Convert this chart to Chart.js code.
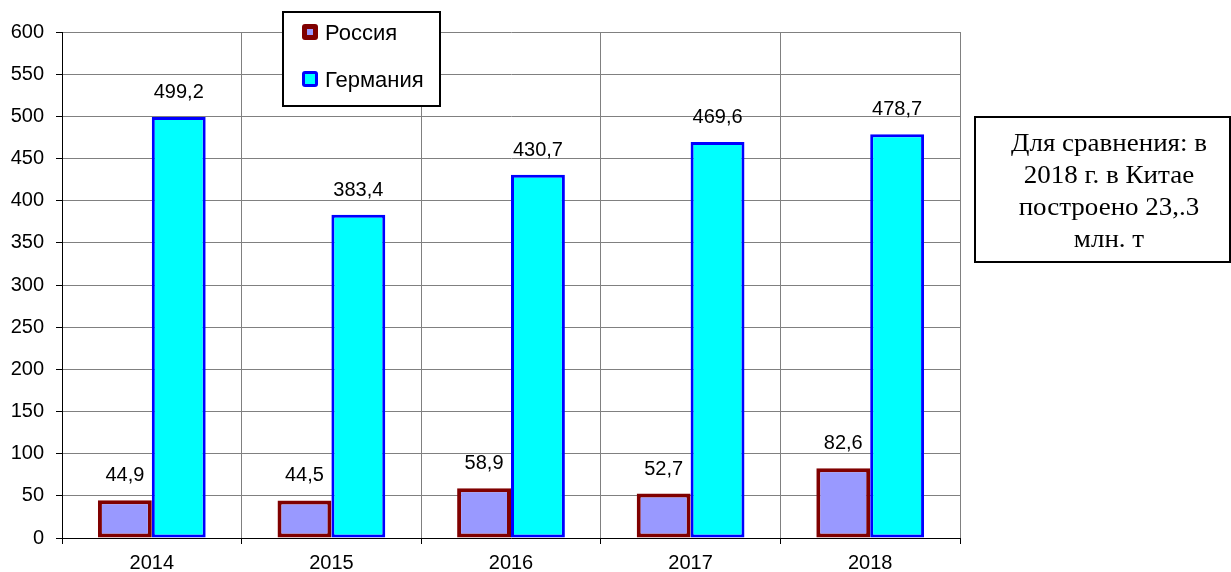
<!DOCTYPE html>
<html><head><meta charset="utf-8">
<script src="https://cdn.jsdelivr.net/npm/chart.js@4/dist/chart.umd.min.js"></script>
<style>html,body{margin:0;padding:0;background:#fff;}#wrap{position:relative;width:1231px;height:572px;}</style>
</head><body><div id="wrap"><canvas id="c" width="1231" height="572"></canvas></div>
<script>
const years = ['2014', '2015', '2016', '2017', '2018'];
const russia = [44.9, 44.5, 58.9, 52.7, 82.6];
const germany = [499.2, 383.4, 430.7, 469.6, 478.7];
const seriesNames = ['Россия', 'Германия'];
const yMin = 0, yMax = 600, yStep = 50;
const noteLines = ['Для сравнения: в', '2018 г. в Китае', 'построено 23,.3', 'млн. т'];

const SANS = '"Liberation Sans", Arial, sans-serif';
const SERIF = '"Liberation Serif", "Times New Roman", serif';

const labelsPlugin = {
  id: 'valueLabels',
  afterDatasetsDraw(chart) {
    const ctx = chart.ctx;
    ctx.save();
    ctx.font = '20px ' + SANS;
    ctx.fillStyle = '#000';
    ctx.textAlign = 'center';
    ctx.textBaseline = 'alphabetic';
    chart.data.datasets.forEach((ds, di) => {
      const meta = chart.getDatasetMeta(di);
      meta.data.forEach((el, i) => {
        const t = String(ds.data[i]).replace('.', ',');
        ctx.fillText(t, el.x, el.y - 19);
      });
    });
    ctx.restore();
  }
};

const legendPlugin = {
  id: 'boxLegend',
  afterDraw(chart) {
    const ctx = chart.ctx;
    ctx.save();
    ctx.fillStyle = '#fff';
    ctx.fillRect(283, 12, 157, 94);
    ctx.strokeStyle = '#000';
    ctx.lineWidth = 2;
    ctx.strokeRect(283, 12, 157, 94);
    const rows = [32, 79];
    ctx.font = '22px ' + SANS;
    ctx.textBaseline = 'middle';
    ctx.textAlign = 'left';
    chart.data.datasets.forEach((ds, i) => {
      const y = rows[i];
      ctx.fillStyle = ds.borderColor;
      ctx.beginPath();
      ctx.roundRect(302, y - 8, 16, 16, 3);
      ctx.fill();
      ctx.fillStyle = ds.backgroundColor;
      const inset = i === 0 ? 5 : 3;
      ctx.fillRect(302 + inset, y - 8 + inset, 16 - 2 * inset, 16 - 2 * inset);
      ctx.fillStyle = '#000';
      ctx.fillText(ds.label, 325, y + 2);
    });
    // note box
    ctx.fillStyle = '#fff';
    ctx.fillRect(975, 117, 255, 145);
    ctx.strokeStyle = '#000';
    ctx.lineWidth = 2;
    ctx.strokeRect(975, 117, 255, 145);
    ctx.fillStyle = '#000';
    ctx.font = '25px ' + SERIF;
    ctx.textAlign = 'center';
    ctx.textBaseline = 'middle';
    const sx = 1.08;
    ctx.translate(1109, 0);
    ctx.scale(sx, 1);
    noteLines.forEach((s, k) => ctx.fillText(s, 0, 144 + k * 32));
    ctx.restore();
  }
};

new Chart(document.getElementById('c'), {
  type: 'bar',
  data: {
    labels: years,
    datasets: [
      { label: seriesNames[0], data: russia, backgroundColor: '#9999FF', borderColor: '#800000', borderWidth: 4, borderSkipped: false },
      { label: seriesNames[1], data: germany, backgroundColor: '#00FFFF', borderColor: '#0000FF', borderWidth: 3, borderSkipped: false }
    ]
  },
  options: {
    responsive: false,
    animation: false,
    devicePixelRatio: 1,
    layout: { padding: { left: 0, top: 32, right: 271, bottom: 0 } },
    datasets: { bar: { categoryPercentage: 0.6, barPercentage: 1.0 } },
    plugins: { legend: { display: false }, tooltip: { enabled: false } },
    scales: {
      x: {
        offset: true,
        grid: { offset: true, color: '#808080', tickColor: '#000', tickLength: 6, lineWidth: 1 },
        border: { color: '#000', width: 1 },
        ticks: { color: '#000', font: { family: SANS, size: 20 }, padding: 7, maxRotation: 0 },
        afterFit(s) { s.height = 34; }
      },
      y: {
        min: yMin, max: yMax,
        grid: { color: '#808080', tickColor: '#000', tickLength: 6, lineWidth: 1 },
        border: { color: '#000', width: 1 },
        ticks: { stepSize: yStep, color: '#000', font: { family: SANS, size: 20 }, padding: 12 },
        afterFit(s) { s.width = 62; }
      }
    }
  },
  plugins: [labelsPlugin, legendPlugin]
});
</script></body></html>
